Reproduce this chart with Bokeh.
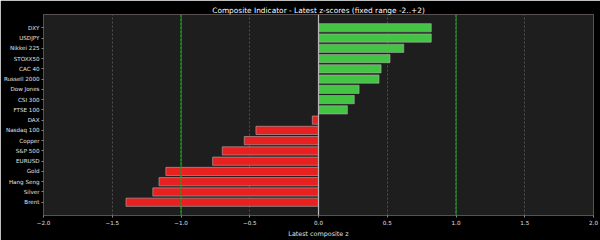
from bokeh.plotting import figure
from bokeh.models import FactorRange, Span, FixedTicker, CustomJSTickFormatter, ColumnDataSource
from bokeh.embed import file_html
from bokeh.resources import INLINE

names = ["DXY", "USDJPY", "Nikkei 225", "STOXX50", "CAC 40", "Russell 2000", "Dow Jones",
         "CSI 300", "FTSE 100", "DAX", "Nasdaq 100", "Copper", "S&P 500", "EURUSD",
         "Gold", "Hang Seng", "Silver", "Brent"]
zscores = [0.82, 0.82, 0.62, 0.52, 0.455, 0.44, 0.295, 0.26, 0.21, -0.045, -0.455, -0.54,
           -0.70, -0.77, -1.11, -1.16, -1.205, -1.40]
x_ticks = [-2.0, -1.5, -1.0, -0.5, 0.0, 0.5, 1.0, 1.5, 2.0]
thresholds = [-1.0, 1.0]

GREEN = "#43c443"
RED = "#e82020"
colors = [GREEN if v >= 0 else RED for v in zscores]
src = ColumnDataSource(dict(name=names, z=zscores, color=colors))

FONT = "DejaVu Sans"
p = figure(width=600, height=240, output_backend="svg", toolbar_location=None,
           x_range=(-2, 2), y_range=FactorRange(factors=list(reversed(names)), range_padding=0.088),
           title="Composite Indicator - Latest z-scores (fixed range -2..+2)")
p.background_fill_color = "#1e1e1e"
p.border_fill_color = "#000000"
p.outline_line_color = "#5a5050"
p.outline_line_width = 1
p.min_border_left = 42
p.min_border_right = 7
p.min_border_top = 14
p.min_border_bottom = 19

p.title.text_color = "#ffffff"
p.title.text_font = FONT
p.title.text_font_size = "7.4px"
p.title.text_font_style = "normal"
p.title.align = "center"
p.title.standoff = 0
p.title.offset = 0

p.hbar(y="name", right="z", left=0, height=0.8, source=src, fill_color="color",
       line_color="#b0b0b0", line_width=0.6)

p.ygrid.visible = False
p.xgrid.ticker = FixedTicker(ticks=x_ticks)
p.xgrid.grid_line_color = "#5a5a5a"
p.xgrid.grid_line_dash = "2 2"
p.xgrid.grid_line_width = 0.8

p.add_layout(Span(location=0, dimension="height", line_color="#b8b8b8", line_width=1.2))
for t in thresholds:
    p.add_layout(Span(location=t, dimension="height", line_color="#1f9a1f", line_width=1.5,
                      line_dash="3 1"))

xa = p.xaxis[0]
xa.ticker = FixedTicker(ticks=x_ticks)
xa.formatter = CustomJSTickFormatter(code="return tick.toFixed(1).replace('-', '\u2212');")
xa.axis_label = "Latest composite z"
xa.axis_label_text_font = FONT
xa.axis_label_text_font_size = "6.4px"
xa.axis_label_text_font_style = "normal"
xa.axis_label_text_color = "#e0e0e0"
xa.axis_label_standoff = 2
xa.major_label_text_font = FONT
xa.major_label_text_font_size = "5.6px"
xa.major_label_text_color = "#e0e0e0"
xa.major_label_standoff = 2
xa.axis_line_color = None
xa.major_tick_line_color = "#888888"
xa.major_tick_out = 2
xa.major_tick_in = 0
xa.minor_tick_line_color = None

ya = p.yaxis[0]
ya.major_label_text_font = FONT
ya.major_label_text_font_size = "5.6px"
ya.major_label_text_color = "#e0e0e0"
ya.major_label_standoff = 2
ya.axis_line_color = None
ya.major_tick_line_color = "#888888"
ya.major_tick_out = 2
ya.major_tick_in = 0
ya.minor_tick_line_color = None

open("out.html", "w").write(file_html(p, INLINE))
